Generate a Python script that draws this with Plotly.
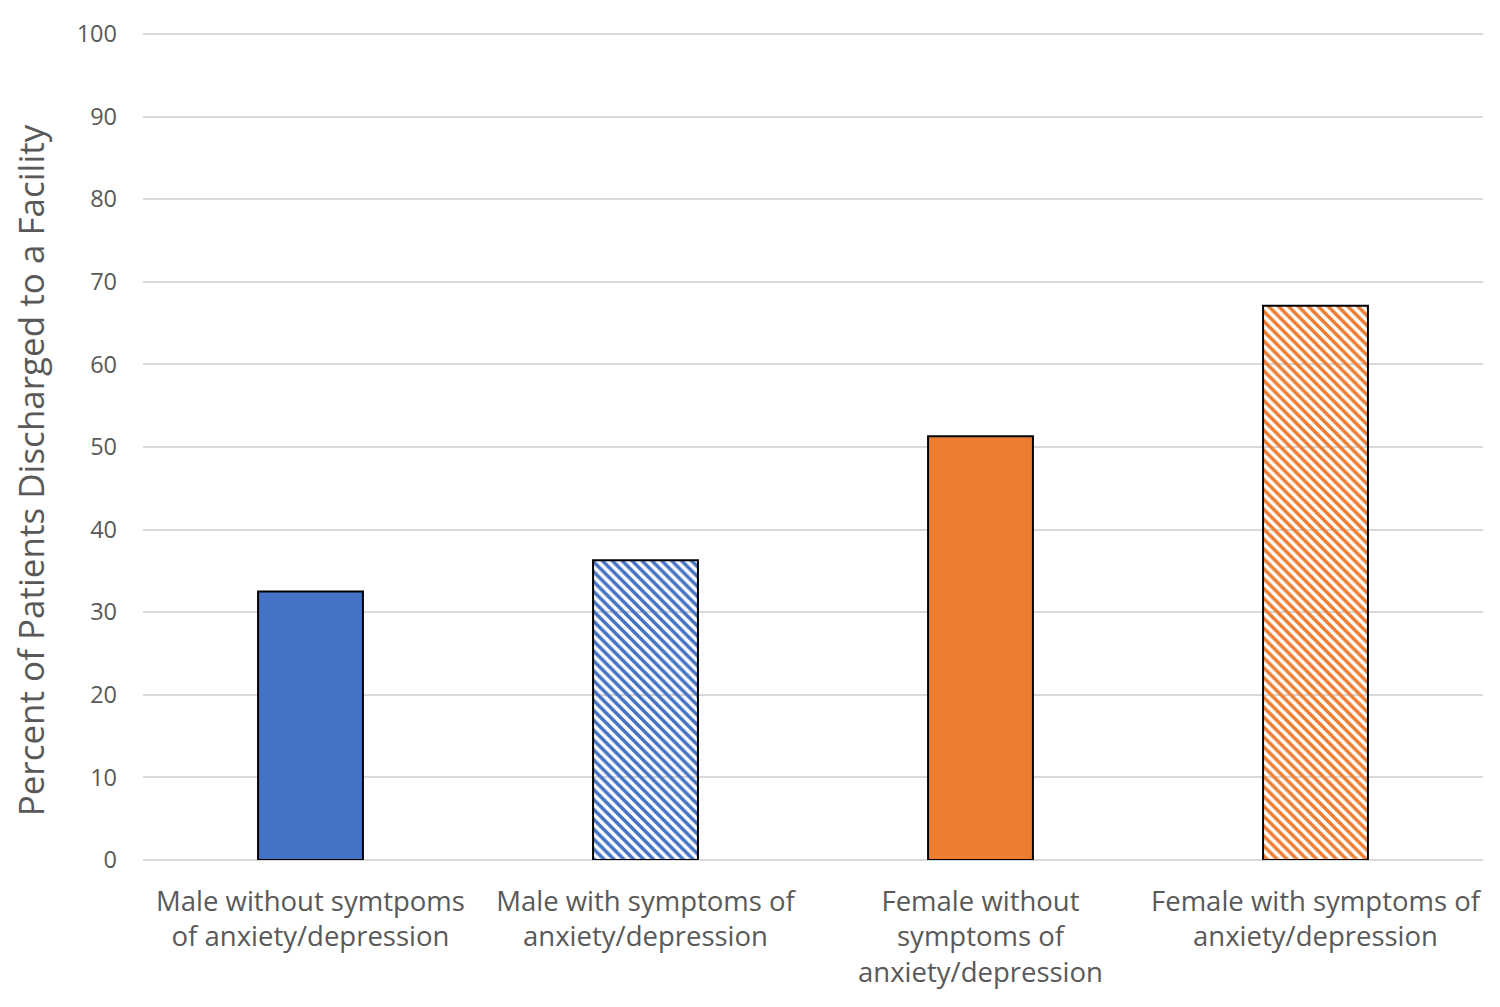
import plotly.graph_objects as go

categories = [
    "Male without symtpoms<br>of anxiety/depression",
    "Male with symptoms of<br>anxiety/depression",
    "Female without<br>symptoms of<br>anxiety/depression",
    "Female with symptoms of<br>anxiety/depression",
]
values = [32.5, 36.3, 51.3, 67.1]
bar_colors = ["#4472C4", "#4472C4", "#ED7D31", "#ED7D31"]
patterns = ["", "\\", "", "\\"]
y_ticks = [0, 10, 20, 30, 40, 50, 60, 70, 80, 90, 100]
y_title = "Percent of Patients Discharged to a Facility"

fig = go.Figure(
    go.Bar(
        x=categories,
        y=values,
        marker=dict(
            color=bar_colors,
            line=dict(color="black", width=2),
            pattern=dict(shape=patterns, fgcolor=bar_colors, bgcolor="white",
                         size=7, solidity=0.5, fillmode="replace"),
        ),
    )
)

# page has an 8px body margin; compensate
W, H = 1484, 991
fig.update_layout(
    width=W, height=H,
    margin=dict(l=135, r=9, t=22, b=133),
    paper_bgcolor="white", plot_bgcolor="white",
    bargap=0.687,
    showlegend=False,
    font=dict(family="Open Sans, sans-serif", color="#595959"),
)
fig.add_annotation(
    text=y_title, textangle=-90, xref="paper", yref="paper",
    x=(30 - 143) / 1340, y=(864 - 472) / 833, xanchor="center", yanchor="middle",
    showarrow=False, font=dict(size=35, color="#595959"),
)
fig.update_yaxes(
    range=[0, 100.25], tickvals=y_ticks, showgrid=True, gridcolor="#d9d9d9", gridwidth=2,
    zeroline=True, zerolinecolor="#d9d9d9", zerolinewidth=2,
    tickfont=dict(size=23.5, color="#595959"), ticks="", ticklabelstandoff=25,
    showline=False,
)
fig.update_xaxes(
    tickfont=dict(size=27.5, color="#595959"), showline=False, ticks="",
    ticklabelstandoff=22,
)

fig.write_html("out.html")
